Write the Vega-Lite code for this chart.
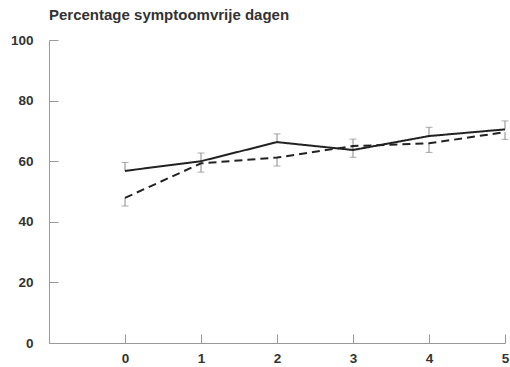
{
  "$schema": "https://vega.github.io/schema/vega-lite/v6.json",
  "autosize": "none",
  "width": 456,
  "height": 303,
  "padding": {"left": 49, "top": 40, "right": 5, "bottom": 24},
  "background": "white",
  "title": {
    "text": "Percentage symptoomvrije dagen",
    "anchor": "start",
    "frame": "group",
    "font": "Liberation Sans",
    "fontSize": 15,
    "fontWeight": "bold",
    "color": "#333",
    "offset": 10
  },
  "config": {
    "view": {"stroke": null},
    "axis": {
      "labelFont": "Liberation Sans",
      "labelFontSize": 13.5,
      "labelFontWeight": "bold",
      "labelColor": "#333",
      "domainColor": "#999",
      "tickColor": "#999",
      "grid": false,
      "title": null
    }
  },
  "data": {
    "values": [
      {"x": 0, "group": "A", "value": 56.8, "err": 59.6},
      {"x": 1, "group": "A", "value": 60.0, "err": 62.7},
      {"x": 2, "group": "A", "value": 66.3, "err": 69.0},
      {"x": 3, "group": "A", "value": 63.7, "err": 67.3},
      {"x": 4, "group": "A", "value": 68.3, "err": 71.2},
      {"x": 5, "group": "A", "value": 70.5, "err": 73.3},
      {"x": 0, "group": "B", "value": 47.9, "err": 45.2},
      {"x": 1, "group": "B", "value": 59.3, "err": 56.4},
      {"x": 2, "group": "B", "value": 61.2, "err": 58.4},
      {"x": 3, "group": "B", "value": 65.0, "err": 61.3},
      {"x": 4, "group": "B", "value": 65.9, "err": 62.9},
      {"x": 5, "group": "B", "value": 69.6, "err": 67.2}
    ]
  },
  "encoding": {
    "x": {
      "field": "x",
      "type": "quantitative",
      "scale": {"domain": [-1, 5], "nice": false, "zero": false},
      "axis": {"values": [0, 1, 2, 3, 4, 5], "tickSize": -9, "labelPadding": 17, "labelFlush": false}
    }
  },
  "layer": [
    {
      "mark": {"type": "rule", "color": "#888", "strokeWidth": 1},
      "encoding": {
        "y": {"field": "value", "type": "quantitative",
          "scale": {"domain": [0, 100], "nice": false},
          "axis": {"values": [0, 20, 40, 60, 80, 100], "tickSize": -9, "labelPadding": 25}},
        "y2": {"field": "err"}
      }
    },
    {
      "mark": {"type": "tick", "orient": "horizontal", "color": "#888", "size": 7, "thickness": 1},
      "encoding": {
        "y": {"field": "err", "type": "quantitative"}
      }
    },
    {
      "mark": {"type": "line", "color": "#222", "strokeWidth": 2},
      "encoding": {
        "y": {"field": "value", "type": "quantitative"},
        "strokeDash": {
          "field": "group",
          "type": "nominal",
          "scale": {"domain": ["A", "B"], "range": [[1, 0], [8, 5]]},
          "legend": null
        }
      }
    }
  ]
}
